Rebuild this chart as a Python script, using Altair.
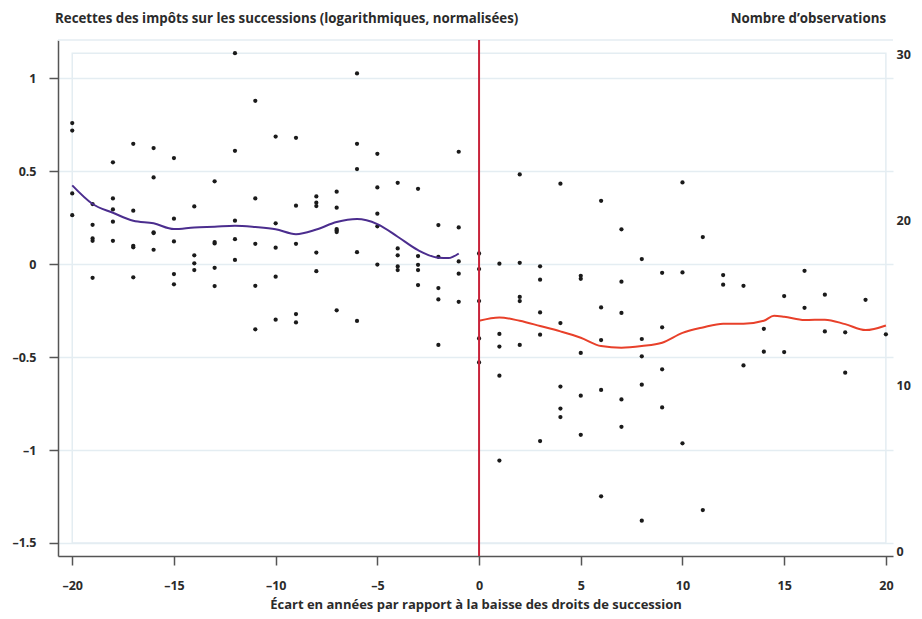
import altair as alt
import pandas as pd

# ---- data ----
point_years = (
    [-20]*4 + [-19]*5 + [-18]*5 + [-17]*5 + [-16]*5 + [-15]*5 + [-14]*4 + [-13]*5 +
    [-12]*5 + [-11]*5 + [-10]*5 + [-9]*5 + [-8]*5 + [-7]*6 + [-6]*5 + [-5]*5 +
    [-4]*5 + [-3]*5 + [-2]*5 + [-1]*5 + [0]*5 + [1]*5 + [2]*5 + [3]*5 + [4]*5 +
    [5]*5 + [6]*5 + [7]*5 + [8]*5 + [9]*4 + [10]*3 + [11]*2 + [12]*2 + [13]*2 +
    [14]*2 + [15]*2 + [16]*2 + [17]*2 + [18]*2 + [19]*1 + [20]*1
)
point_values = [
    0.758, 0.718, 0.380, 0.263,
    0.323, 0.211, 0.138, 0.125, -0.074,
    0.547, 0.353, 0.294, 0.228, 0.125,
    0.647, 0.287, 0.098, 0.090, -0.071,
    0.624, 0.466, 0.170, 0.167, 0.077,
    0.570, 0.244, 0.122, -0.054, -0.109,
    0.310, 0.047, 0.004, -0.032,
    0.445, 0.118, 0.111, -0.020, -0.118,
    1.134, 0.609, 0.233, 0.134, 0.022,
    0.878, 0.353, 0.109, -0.117, -0.351,
    0.686, 0.219, 0.088, -0.068, -0.299,
    0.679, 0.314, 0.109, -0.269, -0.314,
    0.364, 0.330, 0.312, 0.062, -0.038,
    0.389, 0.303, 0.188, 0.181, 0.172, -0.249,
    1.025, 0.647, 0.511, 0.064, -0.306,
    0.593, 0.412, 0.271, 0.203, -0.003,
    0.437, 0.084, 0.047, -0.013, -0.032,
    0.405, 0.043, -0.004, -0.032, -0.113,
    0.210, 0.039, -0.129, -0.190, -0.435,
    0.604, 0.197, 0.014, -0.052, -0.203,
    0.057, -0.027, -0.199, -0.400, -0.529,
    0.002, -0.376, -0.444, -0.600, -1.057,
    0.482, 0.007, -0.177, -0.199, -0.435,
    -0.012, -0.084, -0.260, -0.380, -0.952,
    0.432, -0.317, -0.659, -0.777, -0.823,
    -0.063, -0.079, -0.478, -0.708, -0.918,
    0.340, -0.233, -0.409, -0.677, -1.249,
    0.187, -0.095, -0.263, -0.728, -0.875,
    0.027, -0.403, -0.496, -0.649, -1.380,
    -0.047, -0.340, -0.566, -0.771,
    0.439, -0.045, -0.964,
    0.145, -1.323,
    -0.059, -0.111,
    -0.117, -0.545,
    -0.348, -0.471,
    -0.172, -0.473,
    -0.036, -0.235,
    -0.165, -0.362,
    -0.367, -0.584,
    -0.192,
    -0.378,
]

before_years = [-20, -19, -18, -17, -16, -15, -14, -13, -12, -11, -10, -9, -8, -7, -6,
                -5, -4, -3, -2, -1.5, -1]
before_fit = [0.423, 0.323, 0.276, 0.233, 0.219, 0.188, 0.197, 0.201, 0.206, 0.199,
              0.187, 0.161, 0.186, 0.226, 0.242, 0.215, 0.147, 0.075, 0.034, 0.032, 0.057]

after_years = [0, 1, 2, 3, 4, 5, 6, 7, 8, 9, 10, 11, 12, 13, 14, 14.5, 15, 16, 17, 18, 19, 20]
after_fit = [-0.305, -0.287, -0.305, -0.333, -0.362, -0.396, -0.441, -0.450, -0.441,
             -0.423, -0.370, -0.341, -0.321, -0.321, -0.305, -0.278, -0.283, -0.301,
             -0.299, -0.323, -0.355, -0.330]

x_ticks = [-20, -15, -10, -5, 0, 5, 10, 15, 20]
y_ticks = [1, 0.5, 0, -0.5, -1, -1.5]
count_ticks = [0, 10, 20, 30]

left_title = "Recettes des impôts sur les successions (logarithmiques, normalisées)"
right_title = "Nombre d’observations"
x_title = "Écart en années par rapport à la baisse des droits de succession"

FONT = "Open Sans"
W, H = 835, 516
GRID = "#e4edf2"
AXIS = "#555555"
TXT = "#2b2b2b"

pts = pd.DataFrame({"year": point_years, "value": point_values})
before = pd.DataFrame({"year": before_years, "fit": before_fit})
after = pd.DataFrame({"year": after_years, "fit": after_fit})
frame = pd.DataFrame({"x": [min(point_years)], "x2": [max(point_years)],
                      "y": [min(y_ticks)], "y2": [max(point_values)]})
cut = pd.DataFrame({"year": [0]})
counts = pd.DataFrame({"n": [min(count_ticks), max(count_ticks)]})

dash = "replace(toString(datum.value), '-', '–')"

xs = alt.Scale(domain=[-20.7, 20.35], nice=False, zero=False)
ys = alt.Scale(domain=[-1.57, 1.205], nice=False, zero=False)

x_axis = alt.Axis(values=x_ticks, labelExpr=dash, title=x_title, grid=False,
                  domainColor=AXIS, domainWidth=1.5, tickColor=AXIS, tickWidth=1.5,
                  tickSize=9, labelPadding=14, titlePadding=7)
y_axis = alt.Axis(values=y_ticks, labelExpr=dash, title=None, grid=True,
                  gridColor=GRID, gridWidth=1.5, domainColor=AXIS, domainWidth=1.5,
                  tickColor=AXIS, tickWidth=1.5, tickSize=9, labelPadding=13)

frame_layer = alt.Chart(frame).mark_rect(fill=None, stroke=GRID, strokeWidth=1.5).encode(
    x=alt.X("x:Q", scale=xs, axis=x_axis), x2="x2:Q",
    y=alt.Y("y:Q", scale=ys, axis=y_axis), y2="y2:Q",
)

top_line = alt.Chart(cut).mark_rule(color=GRID, strokeWidth=1.5).encode(
    x=alt.value(0), x2=alt.value(W), y=alt.value(0)
)

points = alt.Chart(pts).mark_circle(color="#1a1a1a", opacity=1, size=18).encode(
    x=alt.X("year:Q", scale=xs), y=alt.Y("value:Q", scale=ys)
)

line_before = alt.Chart(before).mark_line(color="#4b2d8e", strokeWidth=2,
                                          interpolate="monotone").encode(
    x=alt.X("year:Q", scale=xs), y=alt.Y("fit:Q", scale=ys)
)
line_after = alt.Chart(after).mark_line(color="#e8402a", strokeWidth=2,
                                        interpolate="monotone").encode(
    x=alt.X("year:Q", scale=xs), y=alt.Y("fit:Q", scale=ys)
)

cut_rule = alt.Chart(cut).mark_rule(color="#c8233a", strokeWidth=2).encode(
    x=alt.X("year:Q", scale=xs), y=alt.value(0), y2=alt.value(H)
)

t_left = alt.Chart(cut).mark_text(text=left_title, font=FONT, fontSize=13.3,
                                  fontWeight="bold", color=TXT, align="left",
                                  baseline="middle").encode(
    x=alt.value(-3), y=alt.value(-21)
)
t_right = alt.Chart(cut).mark_text(text=right_title, font=FONT, fontSize=13.3,
                                   fontWeight="bold", color=TXT, align="right",
                                   baseline="middle").encode(
    x=alt.value(828), y=alt.value(-21)
)

left = alt.layer(frame_layer, top_line, points, line_before, line_after, cut_rule,
                 t_left, t_right)

right = alt.Chart(counts).mark_point(opacity=0).encode(
    y=alt.Y("n:Q", scale=alt.Scale(domain=[-0.3, 30.9], nice=False, zero=False),
            axis=alt.Axis(orient="right", values=count_ticks, domain=False, ticks=False,
                          grid=False, labelPadding=3, title=None))
)

chart = alt.layer(left, right).resolve_scale(y="independent").properties(
    width=W, height=H,
    autosize=alt.AutoSizeParams(type="none"),
    padding={"left": 50, "top": 32, "right": 21, "bottom": 59},
).configure_view(stroke=None).configure_axis(
    labelFont=FONT, labelFontSize=12.5, labelFontWeight="bold", labelColor=TXT,
    titleFont=FONT, titleFontSize=13, titleFontWeight="bold", titleColor=TXT,
)

chart.save("out.html", embed_options={"renderer": "svg", "actions": False})
